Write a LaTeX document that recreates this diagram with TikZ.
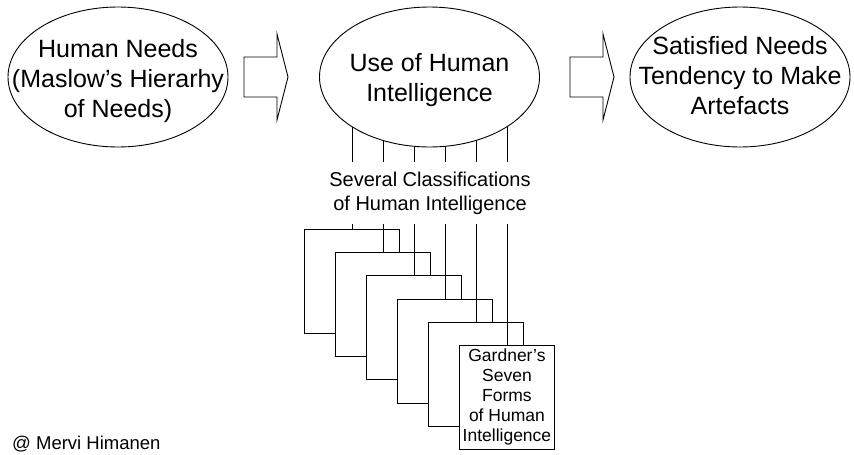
\documentclass[tikz,border=0pt]{standalone}
\usepackage{fontspec}
\setmainfont{Liberation Sans}
\usetikzlibrary{shapes.geometric}
\pgfdeclarelayer{background}
\pgfsetlayers{background,main}

\begin{document}
\begin{tikzpicture}[x=1pt, y=-1pt, line width=0.9pt,
  bubble/.style={draw, fill=white, ellipse, minimum width=220pt, minimum height=140pt, inner sep=0pt},
  bubbletext/.style={align=center, inner sep=0pt, font=\fontsize{25}{30}\selectfont},
  card/.style={draw, fill=white, anchor=north west, minimum width=95pt, minimum height=104pt, inner sep=0pt},
  cardtext/.style={align=center, font=\fontsize{17.5}{20}\selectfont},
  blockarrow/.pic={\draw (0,-20) -- (33,-20) -- (33,-43) -- (44,0) -- (33,43) -- (33,20) -- (0,20) -- cycle;}
]
\useasboundingbox (0,0) rectangle (854,455);

% the three stages
\node[bubble] (e1) at (118,77) {};
\node[bubbletext] (t1) at (118,81) {Human Needs\\(Maslow’s Hierarhy\\of Needs)};
\node[bubble] (e2) at (429.5,77) {};
\node[bubbletext] (t2) at (429.5,80.5) {Use of Human\\Intelligence};
\node[bubble] (e3) at (740,77) {};
\node[bubbletext] (t3) at (740,76) {Satisfied Needs\\Tendency to Make\\Artefacts};

% block arrows between the stages
\pic at (244,77) {blockarrow};
\pic at (570,77) {blockarrow};

% label interrupting the classification lines
\node[align=center, font=\fontsize{20}{24}\selectfont, inner xsep=2pt, inner ysep=9pt] (lab) at (430,193)
  {Several Classifications\\of Human Intelligence};

% stacked cards of classifications
\foreach \k in {1,...,5}
  \node[card] (r\k) at ({304+31*(\k-1)}, {229+23.2*(\k-1)}) {};
\node[card, cardtext] (r6) at (459,345) {Gardner’s\\Seven\\Forms\\of Human\\Intelligence};

% lines from the central stage to each card
\foreach \k in {1,...,6} {
  \begin{pgfonlayer}{background}
    \draw (r\k.north |- e2.center) -- (r\k.north |- lab.north);
  \end{pgfonlayer}
  \draw (r\k.north |- lab.south) -- (r\k.north);
}

% credit line
\node[anchor=base west, inner sep=0pt, font=\fontsize{18.5}{22}\selectfont] (credit) at (12,449) {@ Mervi Himanen};
\end{tikzpicture}
\end{document}
